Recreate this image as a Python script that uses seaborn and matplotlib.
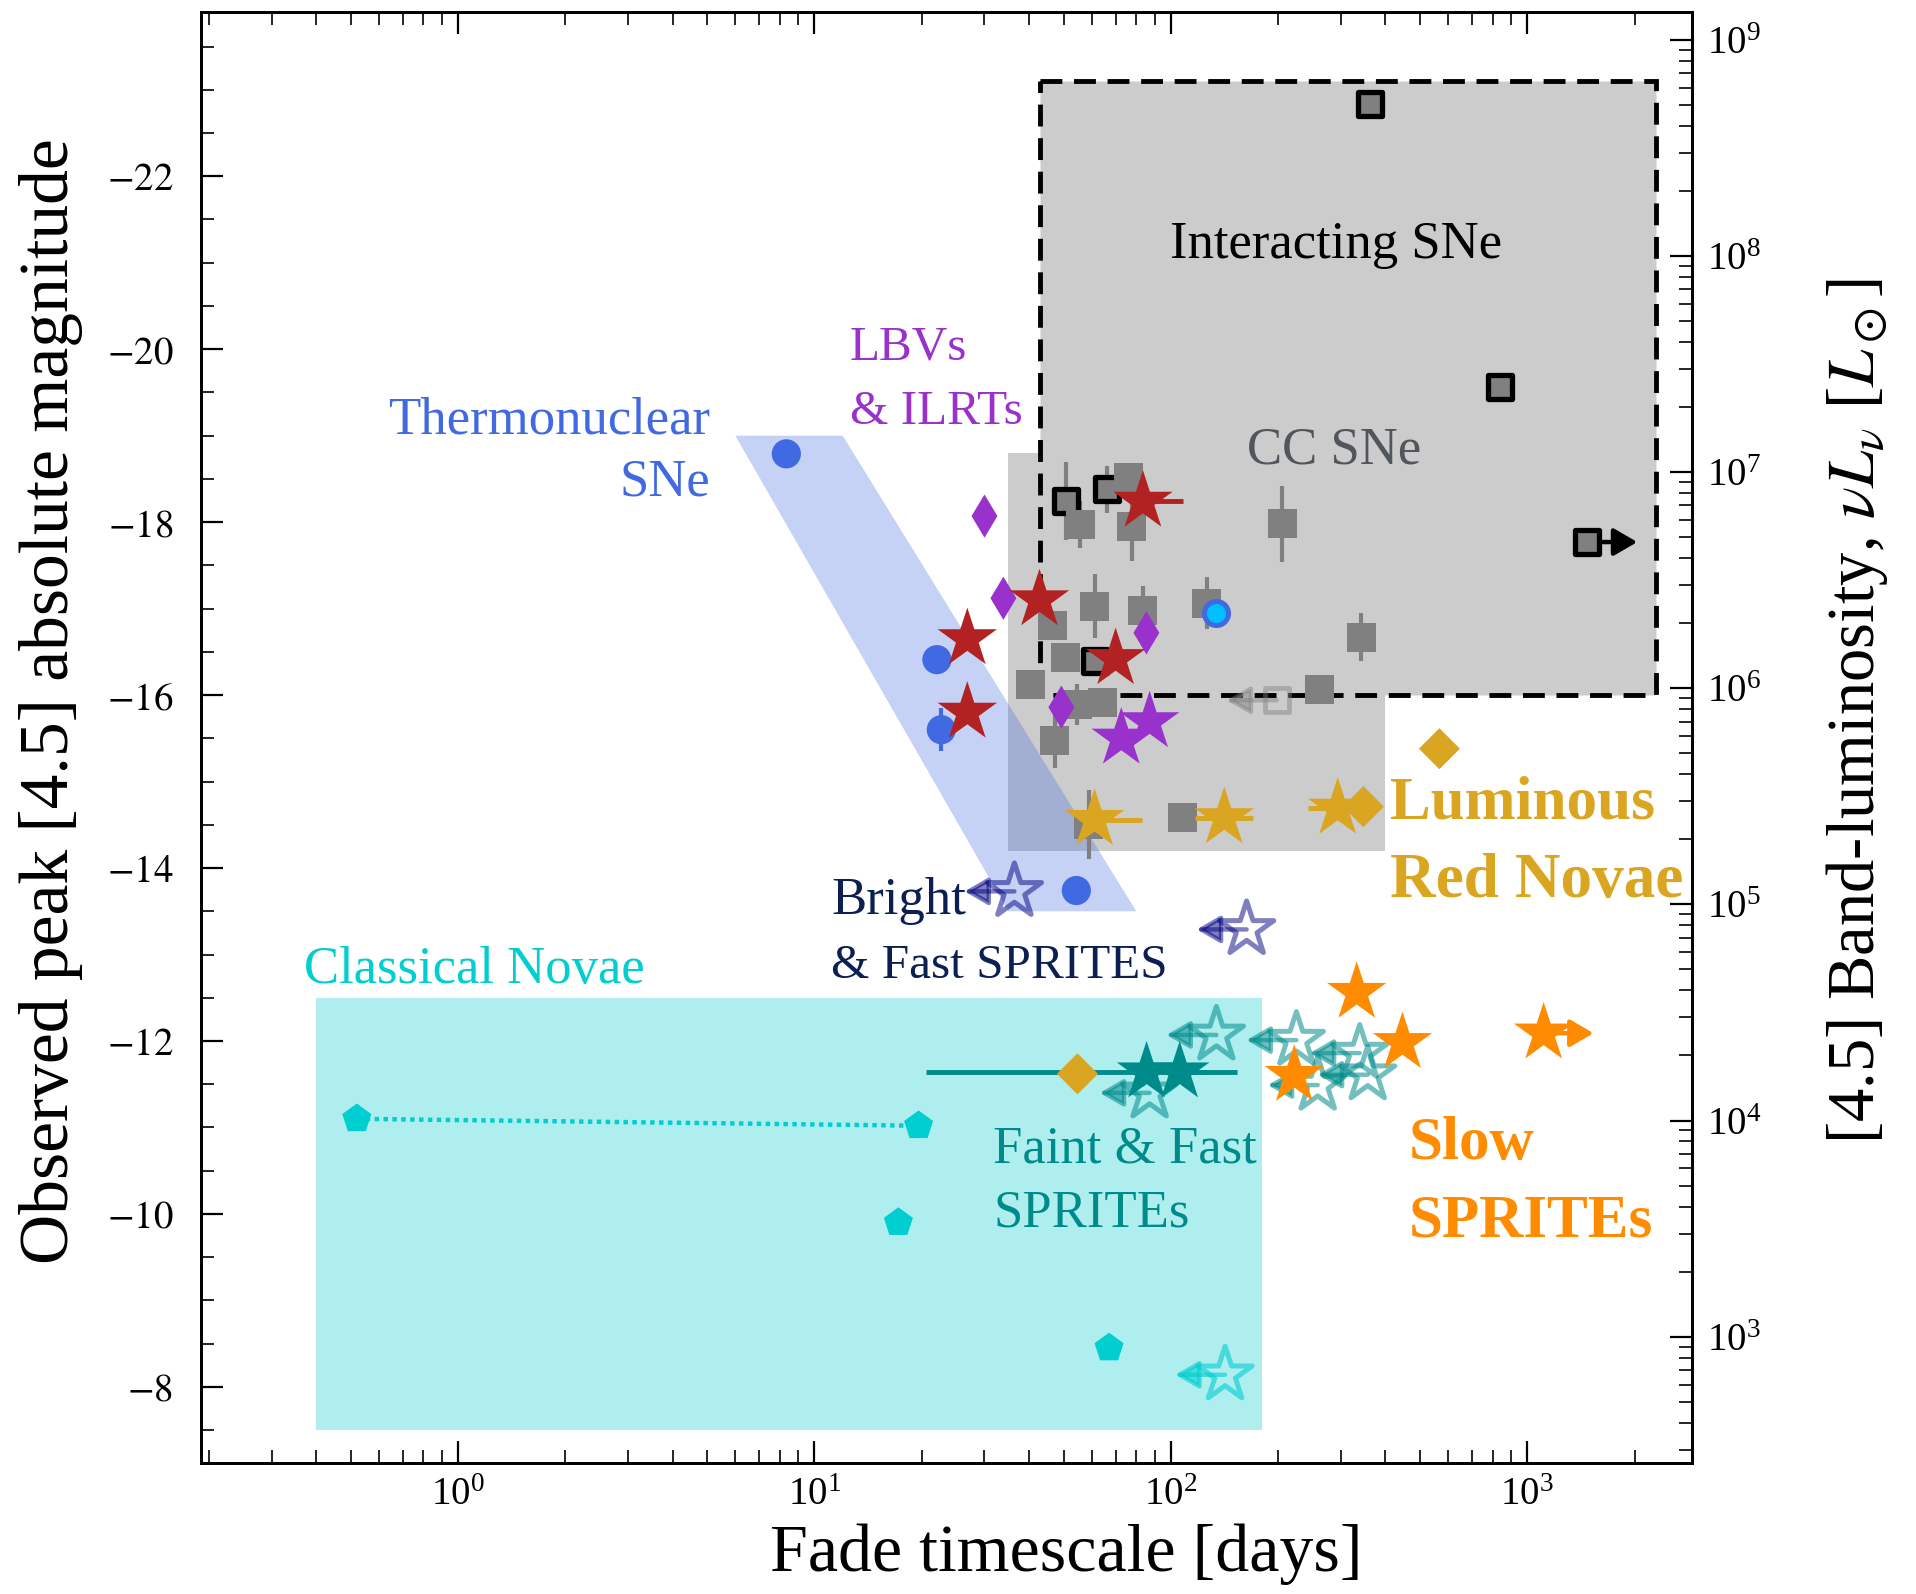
import numpy as np
import matplotlib
matplotlib.use("Agg")
import matplotlib.pyplot as plt
from matplotlib.patches import Rectangle, Polygon
from matplotlib.ticker import LogLocator, NullFormatter, MultipleLocator, FuncFormatter
import seaborn as sns

# Absolute [4.5] magnitude that corresponds to nu*L_nu = 1 L_sun
MAG_ZERO = -1.08

# axis ranges
fade_lim = (0.19, 2900)
mag_lim = (-7.12, -23.9)

# ---- population regions ----
novae_region_t = (0.4, 180)
novae_region_mag = (-12.5, -7.5)
ccsn_region_t = (35, 400)
ccsn_region_mag = (-18.8, -14.2)
interacting_region_t = (43, 2300)
interacting_region_mag = (-23.1, -16.0)
thermo_band_t = [6, 12, 80, 35]
thermo_band_mag = [-19.0, -19.0, -13.5, -13.5]

# ---- core-collapse SNe ----
ccsn_t = [55.7, 76.1, 77.6, 205.6, 342.6, 261.7, 126.0, 61.1, 83.5, 46.5,
          50.7, 40.3, 54.7, 64.4, 47.2, 108.0, 58.8]
ccsn_mag = [-17.97, -18.52, -17.95, -17.98, -16.67, -16.06, -17.06, -17.03,
            -16.98, -16.81, -16.44, -16.12, -15.89, -15.91, -15.48, -14.59,
            -14.50]
ccsn_err = [0.27, 0.0, 0.40, 0.44, 0.28, 0.0, 0.30, 0.37, 0.28, 0.0, 0.0,
            0.0, 0.24, 0.0, 0.32, 0.0, 0.40]
ccsn_limit_t = [198]
ccsn_limit_mag = [-15.94]

# ---- interacting SNe ----
inter_t = [361, 841, 1475, 50.7, 66.2, 61.1]
inter_mag = [-22.83, -19.56, -17.77, -18.24, -18.38, -16.40]
inter_err = [0.0, 0.0, 0.0, 0.45, 0.27, 0.0]
inter_lowlim = [False, False, True, False, False, False]

# ---- thermonuclear SNe ----
thermo_t = [8.34, 22.06, 22.7, 54.3]
thermo_mag = [-18.79, -16.41, -15.60, -13.74]
thermo_err = [0.0, 0.0, 0.25, 0.0]
thermo_special_t = [133.6]
thermo_special_mag = [-16.95]

# ---- LBVs & ILRTs ----
lbv_t = [30.0, 33.9, 85.4, 49.3]
lbv_mag = [-18.07, -17.12, -16.72, -15.86]
lbv_sprite_t = [72.6, 87.2]
lbv_sprite_mag = [-15.50, -15.69]

# ---- SPRITEs matching SNe ----
sn_sprite_t = [83.5, 42.8, 70.0, 26.85, 26.85]
sn_sprite_mag = [-18.24, -17.10, -16.42, -16.65, -15.80]
sn_sprite_xerr_hi = [25.0, 0.0, 0.0, 0.0, 0.0]

# ---- luminous red novae ----
lrn_sprite_t = [61.1, 141.2, 294]
lrn_sprite_mag = [-14.56, -14.58, -14.69]
lrn_sprite_xerr_lo = [0.0, 24.0, 52.0]
lrn_sprite_xerr_hi = [22.0, 29.0, 0.0]
lrn_t = [567, 347, 54.7]
lrn_mag = [-15.38, -14.71, -11.62]

# ---- bright & fast SPRITEs (upper limits on fade time) ----
bright_fast_t = [36.4, 163.2]
bright_fast_mag = [-13.73, -13.29]

# ---- faint & fast SPRITEs ----
faint_fast_t = [85.5, 105.9]
faint_fast_mag = [-11.64, -11.64]
faint_fast_xerr_lo = [64.9, 0.0]
faint_fast_xerr_hi = [41.4, 47.0]
faint_fast_lim_t = [134.2, 87.2, 225.1, 258.3, 338.8, 356.8]
faint_fast_lim_mag = [-12.07, -11.40, -12.01, -11.49, -11.86, -11.61]
faint_nova_lim_t = [142]
faint_nova_lim_mag = [-8.14]

# ---- slow SPRITEs ----
slow_t = [332.4, 446.6, 222.0, 1112]
slow_mag = [-12.56, -11.98, -11.60, -12.09]
slow_lowlim = [False, False, False, True]

# ---- classical novae ----
novae_t = [0.52, 19.6, 17.2, 67.1]
novae_mag = [-11.10, -11.02, -9.90, -8.45]
novae_pair = [0, 1]

# length of limit arrows in dex
ARROW_DEX = 0.14

# ---------------------------------------------------------------------------
sns.set_theme(style="ticks")
plt.rcParams.update({
    "font.family": ["Liberation Serif", "DejaVu Serif"],
    "mathtext.fontset": "stix",
    "axes.edgecolor": "black",
    "axes.labelcolor": "black",
    "text.color": "black",
    "xtick.color": "black",
    "ytick.color": "black",
    "axes.linewidth": 2.0,
})

fig = plt.figure(figsize=(19.16, 15.94), dpi=100)
ax = fig.add_axes([0.1049, 0.0822, 0.7782, 0.9103])
ax.set_xscale("log")
ax.set_xlim(*fade_lim)
ax.set_ylim(*mag_lim)
ax.set_facecolor("white")

# regions
ax.add_patch(Rectangle((novae_region_t[0], novae_region_mag[0]),
                       novae_region_t[1] - novae_region_t[0],
                       novae_region_mag[1] - novae_region_mag[0],
                       facecolor="paleturquoise", edgecolor="none", zorder=0.5))
ax.add_patch(Rectangle((ccsn_region_t[0], ccsn_region_mag[0]),
                       ccsn_region_t[1] - ccsn_region_t[0],
                       ccsn_region_mag[1] - ccsn_region_mag[0],
                       facecolor="#cccccc", edgecolor="none", zorder=0.5))
ax.add_patch(Rectangle((interacting_region_t[0], interacting_region_mag[0]),
                       interacting_region_t[1] - interacting_region_t[0],
                       interacting_region_mag[1] - interacting_region_mag[0],
                       facecolor="#cccccc", edgecolor="black", lw=3.5,
                       linestyle=(0, (4.5, 2.4)), zorder=0.6))
ax.add_patch(Polygon(list(zip(thermo_band_t, thermo_band_mag)), closed=True,
                     facecolor="royalblue", alpha=0.3, edgecolor="none",
                     zorder=0.8))

# classical novae connector
ax.plot([novae_t[i] for i in novae_pair], [novae_mag[i] for i in novae_pair],
        ls=(0, (1, 1)), color="darkturquoise", lw=3.2, zorder=1)


def limit_arrows(ts, ms, color, alpha=1.0, direction=-1, lw=3.2):
    for t, m in zip(ts, ms):
        ax.annotate("", xy=(t * 10 ** (direction * ARROW_DEX), m), xytext=(t, m),
                    xycoords="data", textcoords="data",
                    arrowprops=dict(arrowstyle="-|>,head_length=0.55,head_width=0.32",
                                    mutation_scale=26, color=color, lw=lw,
                                    alpha=alpha, shrinkA=0, shrinkB=0),
                    zorder=2)


# errorbars
ax.errorbar(ccsn_t, ccsn_mag, yerr=ccsn_err, fmt="none", ecolor="gray",
            elinewidth=3, capsize=0, zorder=1.5)
ax.errorbar(inter_t, inter_mag, yerr=inter_err, fmt="none", ecolor="gray",
            elinewidth=3, capsize=0, zorder=1.5)
ax.errorbar(thermo_t, thermo_mag, yerr=thermo_err, fmt="none", ecolor="royalblue",
            elinewidth=3, capsize=0, zorder=1.5)

# interacting SNe
sns.scatterplot(x=inter_t, y=inter_mag, ax=ax, marker="s", s=300,
                color="gray", edgecolor="black", linewidth=3.8, zorder=2.5,
                legend=False)
limit_arrows([t for t, f in zip(inter_t, inter_lowlim) if f],
             [m for m, f in zip(inter_mag, inter_lowlim) if f],
             "black", direction=1)

# core-collapse SNe
sns.scatterplot(x=ccsn_t, y=ccsn_mag, ax=ax, marker="s", s=437,
                color="gray", edgecolor="none", linewidth=0, zorder=3,
                legend=False)
sns.scatterplot(x=ccsn_limit_t, y=ccsn_limit_mag, ax=ax, marker="s", s=300,
                facecolor="none", edgecolor="gray", linewidth=3.5, alpha=0.45,
                zorder=3, legend=False)
limit_arrows(ccsn_limit_t, ccsn_limit_mag, "gray", alpha=0.45)

# thermonuclear SNe
sns.scatterplot(x=thermo_t, y=thermo_mag, ax=ax, marker="o", s=441,
                color="royalblue", edgecolor="none", linewidth=0, zorder=4,
                legend=False)
sns.scatterplot(x=thermo_special_t, y=thermo_special_mag, ax=ax, marker="o",
                s=300, color="deepskyblue", edgecolor="royalblue",
                linewidth=3.6, zorder=4, legend=False)

# LBVs / ILRTs
sns.scatterplot(x=lbv_t, y=lbv_mag, ax=ax, marker="d", s=484,
                color="darkorchid", edgecolor="none", linewidth=0, zorder=4,
                legend=False)
sns.scatterplot(x=lbv_sprite_t, y=lbv_sprite_mag, ax=ax, marker="*", s=2025,
                color="darkorchid", edgecolor="none", linewidth=0, zorder=4,
                legend=False)

# SN-like SPRITEs
ax.errorbar(sn_sprite_t, sn_sprite_mag,
            xerr=[[0] * len(sn_sprite_t), sn_sprite_xerr_hi], fmt="none",
            ecolor="firebrick", elinewidth=3.5, capsize=0, zorder=4)
sns.scatterplot(x=sn_sprite_t, y=sn_sprite_mag, ax=ax, marker="*", s=2025,
                color="firebrick", edgecolor="none", linewidth=0, zorder=4.5,
                legend=False)

# luminous red novae
ax.errorbar(lrn_sprite_t, lrn_sprite_mag,
            xerr=[lrn_sprite_xerr_lo, lrn_sprite_xerr_hi], fmt="none",
            ecolor="goldenrod", elinewidth=3.5, capsize=0, zorder=4)
sns.scatterplot(x=lrn_sprite_t, y=lrn_sprite_mag, ax=ax, marker="*", s=2025,
                color="goldenrod", edgecolor="none", linewidth=0, zorder=4.5,
                legend=False)
sns.scatterplot(x=lrn_t, y=lrn_mag, ax=ax, marker="D", s=437,
                color="goldenrod", edgecolor="none", linewidth=0, zorder=4.6,
                legend=False)

# bright & fast SPRITEs
bf_col = (0.0, 0.0, 0.5)
limit_arrows(bright_fast_t, bright_fast_mag, bf_col, alpha=0.5)
sns.scatterplot(x=bright_fast_t, y=bright_fast_mag, ax=ax, marker="*", s=1681,
                facecolor="none", edgecolor=bf_col, linewidth=3.6, alpha=0.5,
                zorder=4, legend=False)

# faint & fast SPRITEs
limit_arrows(faint_fast_lim_t, faint_fast_lim_mag, "darkcyan", alpha=0.55)
sns.scatterplot(x=faint_fast_lim_t, y=faint_fast_lim_mag, ax=ax, marker="*",
                s=1681, facecolor="none", edgecolor="darkcyan", linewidth=3.6,
                alpha=0.55, zorder=3.5, legend=False)
limit_arrows(faint_nova_lim_t, faint_nova_lim_mag, "darkturquoise", alpha=0.6)
sns.scatterplot(x=faint_nova_lim_t, y=faint_nova_lim_mag, ax=ax, marker="*",
                s=1681, facecolor="none", edgecolor="darkturquoise", linewidth=3.6,
                alpha=0.6, zorder=3.5, legend=False)
ax.errorbar(faint_fast_t, faint_fast_mag,
            xerr=[faint_fast_xerr_lo, faint_fast_xerr_hi], fmt="none",
            ecolor="darkcyan", elinewidth=3.5, capsize=0, zorder=4)
sns.scatterplot(x=faint_fast_t, y=faint_fast_mag, ax=ax, marker="*", s=2025,
                color="darkcyan", edgecolor="none", linewidth=0, zorder=4.5,
                legend=False)

# slow SPRITEs
limit_arrows([t for t, f in zip(slow_t, slow_lowlim) if f],
             [m for m, f in zip(slow_mag, slow_lowlim) if f],
             "darkorange", direction=1)
sns.scatterplot(x=slow_t, y=slow_mag, ax=ax, marker="*", s=2025,
                color="darkorange", edgecolor="none", linewidth=0, zorder=5,
                legend=False)

# classical novae
sns.scatterplot(x=novae_t, y=novae_mag, ax=ax, marker="p", s=484,
                color="darkturquoise", edgecolor="none", linewidth=0, zorder=4,
                legend=False)

# ---- annotations ----
reg = dict(fontsize=38, va="baseline", zorder=6)
narrow = dict(fontsize=35.5, va="baseline", zorder=6)
bold = dict(fontsize=44, va="baseline", fontweight="bold", zorder=6)
ax.text(5.09, -19.03, "Thermonuclear", color="royalblue", ha="right", **reg)
ax.text(5.09, -18.31, "SNe", color="royalblue", ha="right", **reg)
ax.text(12.57, -19.88, "LBVs", color="darkorchid", ha="left", **narrow)
ax.text(12.57, -19.14, "& ILRTs", color="darkorchid", ha="left", **narrow)
ax.text(290, -21.05, "Interacting SNe", color="black", ha="center", **reg)
ax.text(288, -18.68, "CC SNe", color="#51565c", ha="center", **reg)
ax.text(413, -14.57, "Luminous", color="goldenrod", ha="left", **bold)
ax.text(413, -13.67, "Red Novae", color="goldenrod", ha="left",
        **{**bold, "fontsize": 45.5})
ax.text(11.15, -13.47, "Bright", color="#0b1f52", ha="left", **reg)
ax.text(11.15, -12.73, "& Fast SPRITES", color="#0b1f52", ha="left", **narrow)
ax.text(0.3695, -12.67, "Classical Novae", color="darkturquoise", ha="left", **reg)
ax.text(31.75, -10.60, "Faint & Fast", color="darkcyan", ha="left", **reg)
ax.text(31.75, -9.86, "SPRITEs", color="darkcyan", ha="left", **reg)
ax.text(464, -10.63, "Slow", color="darkorange", ha="left", **bold)
ax.text(464, -9.74, "SPRITEs", color="darkorange", ha="left", **bold)

# ---- secondary luminosity axis ----
ax2 = ax.twinx()
ax2.set_yscale("log")
ax2.set_ylim(10 ** ((MAG_ZERO - mag_lim[0]) / 2.5),
             10 ** ((MAG_ZERO - mag_lim[1]) / 2.5))
ax2.yaxis.set_major_locator(LogLocator(base=10, numticks=20))
ax2.yaxis.set_minor_locator(LogLocator(base=10, subs=np.arange(2, 10), numticks=20))
ax2.yaxis.set_minor_formatter(NullFormatter())
ax2.tick_params(axis="y", which="both", direction="in", right=True, left=False,
                labelsize=28, pad=11)
ax2.tick_params(axis="y", which="major", length=16, width=1.6)
ax2.tick_params(axis="y", which="minor", length=9.5, width=1.2)
ax2.set_ylabel(r"[4.5] Band-luminosity, $\nu L_\nu$ [$L_\odot$]", fontsize=48)
ax2.yaxis.set_label_coords(1.0885, 0.518)

# ---- primary axis ticks ----
ax.xaxis.set_major_locator(LogLocator(base=10, numticks=20))
ax.xaxis.set_minor_locator(LogLocator(base=10, subs=np.arange(2, 10), numticks=20))
ax.xaxis.set_minor_formatter(NullFormatter())
ax.yaxis.set_major_locator(MultipleLocator(2))
ax.yaxis.set_minor_locator(MultipleLocator(0.5))
ax.yaxis.set_major_formatter(FuncFormatter(lambda v, pos: rf"$-{abs(v):.0f}$"))
ax.tick_params(axis="both", which="both", direction="in")
ax.tick_params(axis="x", which="both", top=True, bottom=True, labelsize=28, pad=10)
ax.tick_params(axis="y", which="both", left=True, right=False, labelsize=28, pad=20)
ax.tick_params(which="major", length=16, width=1.6)
ax.tick_params(which="minor", length=9.5, width=1.2)

ax.set_xlabel("Fade timescale [days]", fontsize=49)
ax.set_ylabel("Observed peak [4.5] absolute magnitude", fontsize=50)
ax.xaxis.set_label_coords(0.580, -0.042)
ax.yaxis.set_label_coords(-0.079, 0.525)

for a in (ax, ax2):
    for sp in a.spines.values():
        sp.set_linewidth(2.0)

fig.savefig("out.png", dpi=100)
